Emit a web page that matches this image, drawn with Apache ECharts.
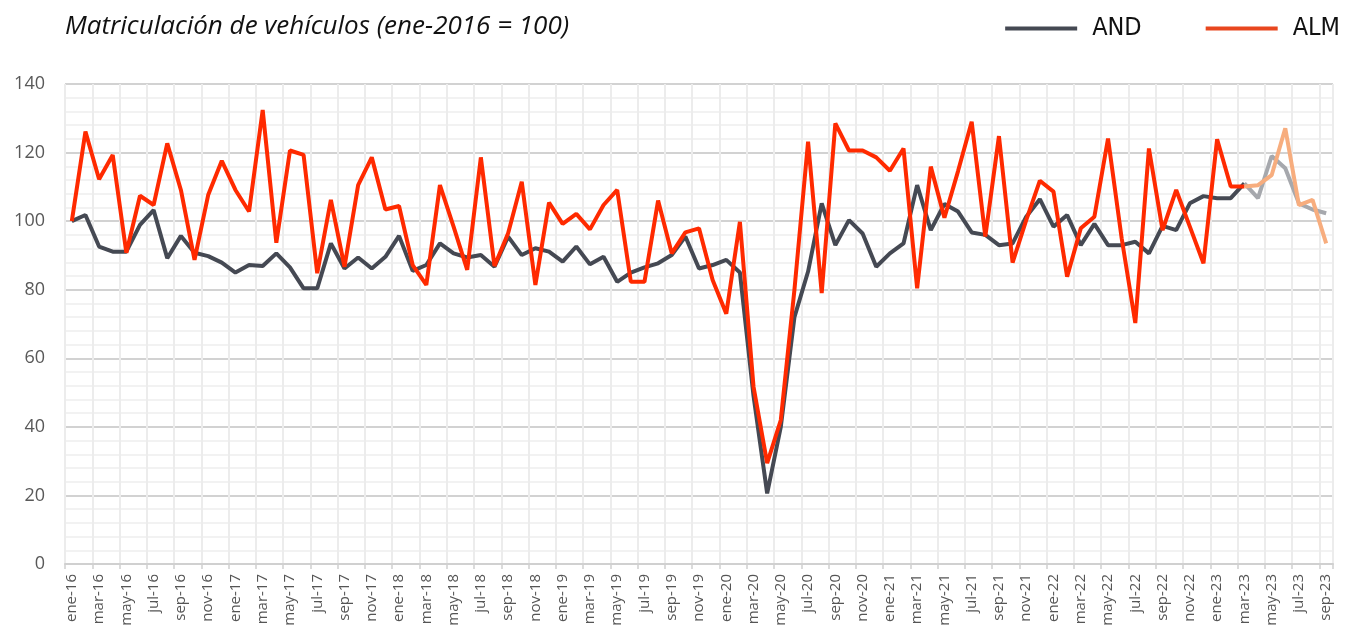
<!DOCTYPE html>
<html>
<head>
<meta charset="utf-8">
<script src="https://cdn.jsdelivr.net/npm/echarts@6/dist/echarts.min.js"></script>
<style>
html,body{margin:0;padding:0;background:#fff;}
#chart{width:1345px;height:640px;}
</style>
</head>
<body>
<div id="chart"></div>
<script>
const categories = [
 'ene-16','feb-16','mar-16','abr-16','may-16','jun-16','jul-16','ago-16','sep-16','oct-16','nov-16','dic-16',
 'ene-17','feb-17','mar-17','abr-17','may-17','jun-17','jul-17','ago-17','sep-17','oct-17','nov-17','dic-17',
 'ene-18','feb-18','mar-18','abr-18','may-18','jun-18','jul-18','ago-18','sep-18','oct-18','nov-18','dic-18',
 'ene-19','feb-19','mar-19','abr-19','may-19','jun-19','jul-19','ago-19','sep-19','oct-19','nov-19','dic-19',
 'ene-20','feb-20','mar-20','abr-20','may-20','jun-20','jul-20','ago-20','sep-20','oct-20','nov-20','dic-20',
 'ene-21','feb-21','mar-21','abr-21','may-21','jun-21','jul-21','ago-21','sep-21','oct-21','nov-21','dic-21',
 'ene-22','feb-22','mar-22','abr-22','may-22','jun-22','jul-22','ago-22','sep-22','oct-22','nov-22','dic-22',
 'ene-23','feb-23','mar-23','abr-23','may-23','jun-23','jul-23','ago-23','sep-23'
];

const andValues = [
 100,101.8,92.6,91.1,91.1,98.9,103.2,89.2,95.7,90.8,89.8,87.9,
 85,87.2,86.9,90.6,86.5,80.4,80.4,93.5,86.2,89.4,86.2,89.6,
 95.7,85.5,87.2,93.5,90.6,89.4,90.1,86.7,95.5,90.1,92.1,91.1,
 88.2,92.6,87.4,89.6,82.3,85,86.5,87.7,90.1,95.5,86.2,87.2,
 88.7,85,49,20.6,40,72,85.3,105.2,93,100.3,96.4,86.7,
 90.6,93.5,110.5,97.4,105,102.8,96.7,96,93,93.5,101.3,106.4,
 98.4,101.8,93,99.2,93,93,94,90.6,98.6,97.4,105.2,107.3,
 106.7,106.7,111,106.7,119,115.4,105.2,103.4,102.3
];

const almValues = [
 100,126.1,112.2,119.3,90.8,107.4,104.7,122.7,109.1,88.7,107.6,117.6,
 109.1,102.8,132.4,93.7,120.6,119.3,84.8,106.2,86.7,110.5,118.6,103.4,
 104.4,87.2,81.4,110.5,98.4,85.8,118.6,86.9,96.5,111.5,81.4,105.4,
 99.2,102.1,97.6,104.7,109.1,82.3,82.3,106,90.6,96.7,97.9,82.8,
 73,99.8,51.7,29.4,42,80,123.2,79,128.5,120.6,120.6,118.6,
 114.7,121.2,80.4,115.9,101,114.6,129,95.5,124.8,87.9,100.3,111.8,
 108.6,83.8,97.9,101.3,124.1,95,70.3,121.2,97.4,109.1,98.4,87.7,
 123.9,110.1,110.1,110.5,113.4,127.1,104.7,106.2,93.5
];

// first month shown as provisional (lighter colour)
const provisionalFrom = 'mar-23';

const yTicks = [0,20,40,60,80,100,120,140];

const split = categories.indexOf(provisionalFrom);
function firstPart(arr){ return arr.map((v,i)=> i<=split ? v : null); }
function lastPart(arr){ return arr.map((v,i)=> i>=split ? v : null); }

const FONT = "'Open Sans', 'DejaVu Sans', sans-serif";
const chart = echarts.init(document.getElementById('chart'), null, {renderer:'canvas'});

const lineW = 4;
chart.setOption({
  animation:false,
  backgroundColor:'#ffffff',
  title:{
    text:'Matriculación de vehículos (ene-2016 = 100)',
    left:60, top:9,
    textStyle:{fontFamily:FONT, fontStyle:'italic', fontWeight:'normal', fontSize:26, color:'#111111'}
  },
  legend:{
    data:['AND','ALM'],
    right:0, top:11,
    icon:'rect',
    itemWidth:72, itemHeight:4,
    itemGap:64,
    textStyle:{fontFamily:"'DejaVu Sans Condensed','Liberation Sans Narrow',sans-serif", fontSize:25, color:'#111', padding:[0,0,0,10]}
  },
  grid:{left:65, right:12, top:84, bottom:76, containLabel:false},
  xAxis:{
    type:'category',
    data:categories,
    boundaryGap:true,
    axisLine:{show:true, lineStyle:{color:'#d0d0d0', width:2}},
    axisTick:{show:true, interval:1, length:5, lineStyle:{color:'#d0d0d0', width:1.5}},
    axisLabel:{interval:1, rotate:90, margin:10, fontFamily:FONT, fontSize:15, color:'#555555'},
    splitLine:{show:true, interval:1, lineStyle:{color:'#ececec', width:2}}
  },
  yAxis:{
    type:'value',
    min:yTicks[0], max:yTicks[yTicks.length-1], interval:20,
    axisLine:{show:false},
    axisTick:{show:false},
    axisLabel:{fontFamily:FONT, fontSize:18, color:'#595959', margin:20},
    splitLine:{show:true, lineStyle:{color:'#d2d2d2', width:2}},
    minorTick:{show:false, splitNumber:5},
    minorSplitLine:{show:true, lineStyle:{color:'#eeeeee', width:1.5}}
  },
  series:[
    {name:'AND', type:'line', data:firstPart(andValues), showSymbol:false, symbol:'none',
     lineStyle:{color:'#454953', width:lineW}, itemStyle:{color:'#454953'}, z:3},
    {name:'ALM', type:'line', data:firstPart(almValues), showSymbol:false, symbol:'none',
     lineStyle:{color:'#ff2a00', width:lineW}, itemStyle:{color:'#e8461e'}, z:4},
    {name:'AND provisional', type:'line', data:lastPart(andValues), showSymbol:false, symbol:'none',
     lineStyle:{color:'#a6a8ad', width:lineW}, itemStyle:{color:'#a6a8ad'}, z:3},
    {name:'ALM provisional', type:'line', data:lastPart(almValues), showSymbol:false, symbol:'none',
     lineStyle:{color:'#f7ad7e', width:lineW}, itemStyle:{color:'#f7ad7e'}, z:4}
  ]
});
</script>
</body>
</html>
